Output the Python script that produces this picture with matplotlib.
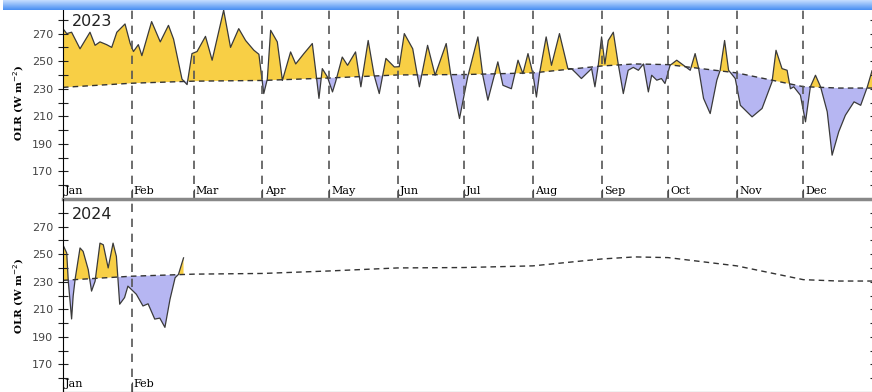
import matplotlib.pyplot as plt
import numpy as np
from matplotlib.colors import LinearSegmentedColormap

# day of year (0 = Jan 1) and daily OLR, W m-2
days_2023 = [0, 1.7, 3.9, 7.7, 12.2, 14.5, 16.7, 19.7, 22, 24.3, 28, 30.3, 31.8, 34, 35.6,
             40, 43.9, 47.6, 49.9, 53.7, 56, 58.2, 60.5, 64.3, 67.3, 72.5, 75.6, 79.3, 82.4,
             86.1, 88.4, 90.6, 92.2, 93.7, 96.7, 99, 102.7, 105, 108.7, 112.5, 114, 115.5,
             117, 119.3, 121.6, 123, 126, 128.4, 132, 134.4, 137.7, 140.4, 142.7, 145.7,
             149.5, 151.7, 154, 157.8, 160.8, 164.5, 167.9, 172.9, 175, 178.9, 182.6, 187.2,
             189.4, 191.7, 196.2, 198.5, 202.3, 205.3, 207.5, 209.8, 212, 213.6, 215, 218,
             220.4, 224, 227.8, 229.4, 231.7, 233.9, 236.2, 238.5, 240, 241.5, 243, 244.5,
             246, 248.3, 250.5, 252.8, 255, 257.3, 259.6, 261.9, 264.1, 265.6, 267.9, 270,
             271.6, 273.9, 276.9, 280, 283, 285.2, 286.7, 289, 292, 295, 296.5, 298.5, 300.3,
             303.3, 305.6, 310.9, 315.4, 319.9, 321.7, 324.4, 326.7, 328.2, 329.7, 332.7, 335,
             337.2, 339.5, 341.8, 344.8, 347, 350, 353, 356.9, 359.9, 362.9, 365]
olr_2023 = [273.6, 270, 271, 259, 271, 261.5, 264, 262, 260, 271, 277, 263, 257, 262, 254,
            278.7, 264, 276, 266, 237, 233, 255.5, 257, 268, 250.7, 287, 260, 273.6, 265,
            258, 255, 226.5, 237, 272.4, 264, 236, 256.7, 248, 255.5, 262.8, 243.4, 223,
            244.6, 238.6, 227.7, 235, 253, 247, 256.7, 231.4, 265, 239.8, 226.5, 252,
            245.8, 246, 270, 259, 231.4, 261.5, 239.8, 262.8, 239.8, 208.4, 238.6, 267.6,
            239.8, 221.7, 249.5, 232.5, 230, 250.7, 241, 255.5, 241, 224, 241, 267.6,
            247, 270, 244.6, 244.6, 241, 237.4, 241, 244.6, 231.4, 247, 267.6, 248,
            265, 271, 248, 226.5, 243.4, 245.5, 243.4, 248, 227.7, 239.8, 236.2, 237.4,
            233.8, 247, 250.7, 247, 243.4, 255.5, 245.5, 223, 212, 236.2, 243.4, 265, 243.4,
            237.4, 218, 209.6, 215.7, 235, 257.9, 244.6, 243.4, 230, 231.4, 225.3, 206,
            231.4, 239.8, 231.4, 213.3, 181.8, 198.8, 210.8, 220.5, 218, 231.4, 243]

days_2024 = [0, 1.7, 2.4, 3.9, 4.6, 5.5, 7.7, 9.1, 11.4, 12.9, 14.5, 16.7, 18.2, 20.4, 22.6,
             24.1, 25.6, 27.8, 29.3, 30.8, 33.1, 36.1, 38.4, 41.4, 43.7, 46, 48.3, 50.6,
             52.1, 54.4]
olr_2024 = [256.8, 250.8, 230.4, 203, 219.6, 232, 254.5, 252, 238.8, 223.2, 230.4, 258,
            256.8, 240, 258, 248.4, 213.7, 218.5, 226.8, 224.5, 220.9, 212.4, 214, 202.9,
            203.6, 196.9, 217.3, 232.9, 235.3, 247.3]

# daily climatology
clim_days = [0, 31, 59, 90, 120, 151, 181, 212, 243, 258, 273, 304, 334, 350, 365]
clim_vals = [231, 234, 235.5, 236, 237.8, 240, 240.3, 241.5, 246.5, 248, 247.5, 241.5,
             231.5, 230.5, 230.5]

months = ['Jan', 'Feb', 'Mar', 'Apr', 'May', 'Jun', 'Jul', 'Aug', 'Sep', 'Oct', 'Nov', 'Dec']
month_start = [0, 31, 59, 90, 120, 151, 181, 212, 243, 273, 304, 334]

ABOVE = '#f8cf45'
BELOW = '#b6b6f2'


def panel(ax, days, olr, year, n_months):
    days = np.asarray(days)
    olr = np.asarray(olr)
    base = np.interp(days, clim_days, clim_vals)
    ax.fill_between(days, olr, base, where=olr >= base, interpolate=True,
                    color=ABOVE, lw=0)
    ax.fill_between(days, olr, base, where=olr <= base, interpolate=True,
                    color=BELOW, lw=0)
    ax.plot(days, olr, color='#3a3a3a', lw=0.9)
    ax.plot(clim_days, clim_vals, color='#333333', lw=1.0, dashes=(4, 3))

    for m in range(1, n_months):
        ax.axvline(month_start[m], color='#555555', lw=1.2, dashes=(5, 4))
    for m in range(n_months):
        ax.text(month_start[m] + 1, 152, months[m], family='DejaVu Serif',
                fontsize=8, va='bottom', ha='left')
    ax.set_xticks(month_start[:n_months])
    ax.tick_params(axis='x', direction='in', length=7, labelbottom=False,
                   color='#333333')

    ax.text(4, 279, str(year), fontsize=11.5, color='#222222', va='center',
            bbox=dict(facecolor='white', edgecolor='none', pad=0.5))

    ax.set_xlim(0, 365)
    ax.set_ylim(150, 290)
    ax.set_yticks(np.arange(170, 290, 20))
    ax.set_yticks(np.arange(160, 290, 10), minor=True)
    ax.tick_params(axis='y', which='both', direction='inout', length=7, width=0.8,
                   labelsize=8, labelcolor='#444444', color='#222222', right=True)
    ax.set_ylabel('OLR (W m$^{-2}$)', family='DejaVu Serif', fontsize=7.5,
                  fontweight='bold', labelpad=4)
    ax.spines['right'].set_visible(False)
    ax.spines['top'].set_visible(False)
    # right-hand ticks are short and only point inward
    for t in ax.yaxis.get_ticklines(minor=False)[1::2] + ax.yaxis.get_ticklines(minor=True)[1::2]:
        t.set_markersize(3.5)
        t.set_color('#666666')


fig = plt.figure(figsize=(8.72, 3.92), dpi=100)
ax1 = fig.add_axes([0.0722, 0.4923, 0.9278, 0.4923])
ax2 = fig.add_axes([0.0722, 0.0, 0.9278, 0.4923])

panel(ax1, days_2023, olr_2023, 2023, 12)
panel(ax2, days_2024, olr_2024, 2024, 2)
ax1.spines['bottom'].set_color('#888888')
ax1.spines['bottom'].set_linewidth(2.5)
ax1.spines['bottom'].set_zorder(5)
ax2.patch.set_visible(False)

# window title strip
bar = fig.add_axes([0.003, 0.9745, 0.997, 0.0255])
grad = np.linspace(0, 1, 20).reshape(-1, 1)
cmap = LinearSegmentedColormap.from_list('bar', ['#c4ddff', '#4a8ff2'])
bar.imshow(grad, aspect='auto', cmap=cmap)
bar.axis('off')

fig.savefig('out.png', dpi=100)
